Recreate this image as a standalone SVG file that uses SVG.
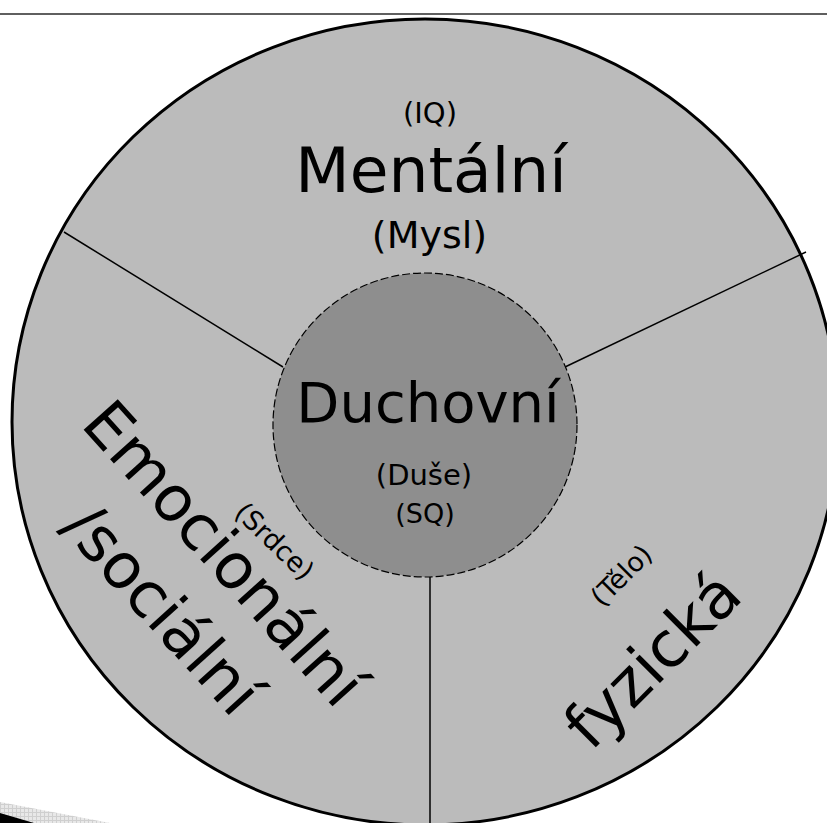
<svg xmlns="http://www.w3.org/2000/svg" width="827" height="823" viewBox="0 0 827 823">
  <style>
    .t { font-family: "DejaVu Sans", "Noto Sans", sans-serif; fill: #000; text-anchor: middle; }
    .big { font-size: 63px; }
    .mid { font-size: 56px; }
    .sm { font-size: 29px; }
    .div { stroke: #000; stroke-width: 1.5; fill: none; }
  </style>
  <defs>
    <pattern id="chk" width="4" height="4" patternUnits="userSpaceOnUse">
      <rect width="4" height="4" fill="#e8e8e8"/>
      <path d="M0 0.5H4M0.5 0V4" stroke="#cfcfcf" stroke-width="1"/>
    </pattern>
  </defs>
  <rect width="827" height="823" fill="#fff"/>
  <line x1="0" y1="14" x2="827" y2="14" stroke="#2a2a2a" stroke-width="1.6"/>
  <g id="shadow">
    <polygon points="0,802 110,823 0,823" fill="url(#chk)"/>
    <polygon points="0,813 34,823 0,823" fill="#000"/>
  </g>
  <g id="outer">
    <ellipse cx="425" cy="422" rx="413" ry="403" fill="#bbbbbb" stroke="#000" stroke-width="3"/>
  </g>
  <g id="dividers">
    <line class="div" x1="64" y1="232" x2="283" y2="367"/>
    <line class="div" x1="565" y1="367" x2="806" y2="252"/>
    <line class="div" x1="430" y1="577" x2="430" y2="823"/>
  </g>
  <g id="mentalni">
    <text class="t sm" x="430" y="123">(IQ)</text>
    <text class="t big" x="431" y="192">Mentální</text>
    <text class="t" style="font-size:38px" x="429.5" y="248">(Mysl)</text>
  </g>
  <g id="duchovni">
    <circle cx="425" cy="425" r="152" fill="#8e8e8e" stroke="#000" stroke-width="1.2" stroke-dasharray="8 3"/>
    <text class="t mid" x="428" y="422">Duchovní</text>
    <text class="t sm" x="424" y="485">(Duše)</text>
    <text class="t" style="font-size:27px" x="425" y="523">(SQ)</text>
  </g>
  <g id="emocionalni">
    <g transform="translate(208,568) rotate(48)">
      <text class="t big" x="0" y="0">Emocionální</text>
      <text class="t big" x="0" y="83">/sociální</text>
    </g>
    <text class="t" style="font-size:27px" transform="translate(268,548) rotate(44)">(Srdce)</text>
  </g>
  <g id="fyzicka">
    <text class="t" style="font-size:27px" transform="translate(628,582) rotate(-45)">(Tělo)</text>
    <text class="t big" transform="translate(668,675) rotate(-45)">fyzická</text>
  </g>
</svg>
